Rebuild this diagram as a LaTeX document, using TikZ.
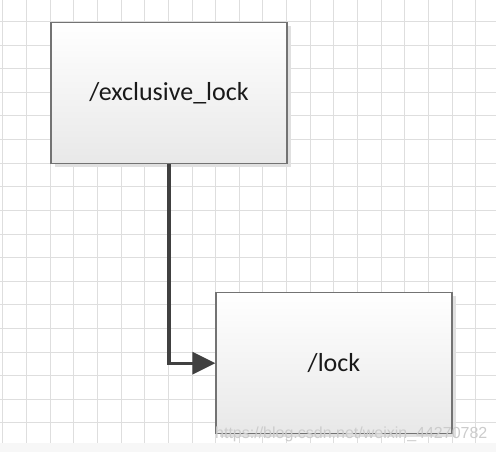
\documentclass[tikz,border=0pt]{standalone}
\usepackage{fontspec}
\setmainfont{Carlito}
\newfontfamily\wmfont{Liberation Sans}
\usetikzlibrary{arrows.meta, positioning, shadows}

\begin{document}
\begin{tikzpicture}[x=1pt, y=-1pt,
    gridline/.style={draw=black!13, line width=0.8pt},
    box/.style={draw=black!55, line width=1.2pt, top color=white, bottom color=black!9,
        minimum width=236pt, minimum height=141pt, text=black!90,
        font=\fontsize{26}{30}\selectfont,
        drop shadow={shadow xshift=3.5pt, shadow yshift=-3.5pt, fill=black!12, opacity=1}},
    link/.style={line width=3.2pt, draw=black!75, -{Triangle[length=23pt, width=22pt, fill=black!75]}}]
    \useasboundingbox (0,0) rectangle (496,452);
    \fill[white] (0,0) rectangle (496,443);
    \fill[black!3] (0,443) rectangle (496,452);

    % grid paper
    \foreach \i in {0,...,20}
        \draw[gridline] ({2.7+23.65*\i},0) -- ++(0,443);
    \foreach \j in {0,...,17}
        \draw[gridline] (0,{21.5+23.6*\j}) -- ++(496,0);

    \node[box] (excl) at (169,93.2) {/exclusive\_lock};
    \node[box] (lock) at (334,363.2) {/lock};

    \draw[link] (excl.south) |- (lock.west);

    \node[anchor=base west, inner sep=0pt, text=black!20,
        font=\wmfont\fontsize{16}{16}\selectfont] (wm) at (215,438) {https://blog.csdn.net/weixin\_44270782};
\end{tikzpicture}
\end{document}
